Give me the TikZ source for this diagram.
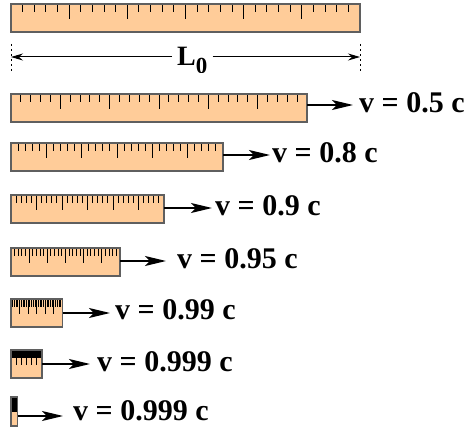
\documentclass[tikz,border=0pt]{standalone}
\usepackage{fontspec}
\setmainfont{Liberation Serif}
\usetikzlibrary{arrows.meta}
\definecolor{peach}{RGB}{255,204,153}
\definecolor{rim}{RGB}{95,95,95}
\tikzset{
  rulerbox/.style={draw=rim, line width=1.2pt, fill=peach, anchor=north west, inner sep=0pt, outer sep=0pt, minimum height=28pt},
  tickline/.style={line width=1pt, black},
  mover/.style={line width=1.4pt, -{Stealth[length=21pt,width=10pt,inset=5pt]}},
  vlabel/.style={anchor=west, inner sep=0pt, font=\fontsize{30}{34}\selectfont\bfseries},
  dimtip/.style={line width=1pt, -{Stealth[length=12pt,width=7pt,inset=4pt]}},
  extline/.style={line width=1pt, dash pattern=on 2.5pt off 2.5pt}
}
\newcommand{\rulerticks}[2]{%
  \foreach \i in {1,...,29}{%
    \pgfmathsetmacro\tl{mod(\i,5)==0 ? 15 : 8}%
    \draw[tickline] ([xshift={\i*#2/30}]#1.north west) -- ++(0,\tl);
  }%
}
\begin{document}
\begin{tikzpicture}[x=1pt,y=-1pt]
\useasboundingbox (0,0) rectangle (467,428);
% rest-length ruler
\node[rulerbox, minimum width=349pt] (r0) at (11,4) {};
\rulerticks{r0}{349}
\draw[rim, line width=1.2pt] (r0.north west) rectangle (r0.south east);
% dimension line
\coordinate (e1t) at (11,44); \coordinate (e1b) at (11,73);
\coordinate (e2t) at (360,44); \coordinate (e2b) at (360,73);
\draw[extline] (e1t) -- (e1b);
\draw[extline] (e2t) -- (e2b);
\coordinate (dl) at (11,57); \coordinate (dr) at (360,57);
\begin{scope}
\clip (0,0) rectangle (467,72.5);
\node[anchor=base west, inner xsep=5pt, inner ysep=0pt, font=\fontsize{28}{32}\selectfont\bfseries] (L0) at (172,65.5) {L\raisebox{-8.5pt}{\fontsize{23}{26}\selectfont 0}};
\end{scope}
\draw[dimtip] (L0.west |- dl) -- (dl);
\draw[dimtip] (L0.east |- dr) -- (dr);
% moving rulers
\foreach \n/\y/\w/\ay/\ax/\tx/\ty/\lab in {
  1/94/296/105/353/359/103/0.5,
  2/143/212/155/270/272/153/0.8,
  3/195/153/208/212/215/206/0.9,
  4/248/109/261/166/177/259/0.95,
  5/299/51.5/313/110/115/310/0.99,
  6/350/31/364/90/97/362/0.999}{
  \node[rulerbox, minimum width=\w pt] (r\n) at (11,\y) {};
  \rulerticks{r\n}{\w}
  \draw[rim, line width=1.2pt] (r\n.north west) rectangle (r\n.south east);
  \coordinate (a\n) at (\ax,\ay);
  \node[vlabel] (t\n) at (\tx,\ty) {v = \lab\ c};
  \draw[mover] (r\n.east |- a\n) -- (a\n);
}
\node[rulerbox, minimum width=6.6pt, minimum height=29pt] (r7) at (11,397) {};
\rulerticks{r7}{6.6}
\draw[rim, line width=1.2pt] (r7.north west) rectangle (r7.south east);
\coordinate (a7) at (63,416);
\node[vlabel] (t7) at (73,411) {v = 0.999 c};
\draw[mover] (r7.east |- a7) -- (a7);
\end{tikzpicture}
\end{document}
